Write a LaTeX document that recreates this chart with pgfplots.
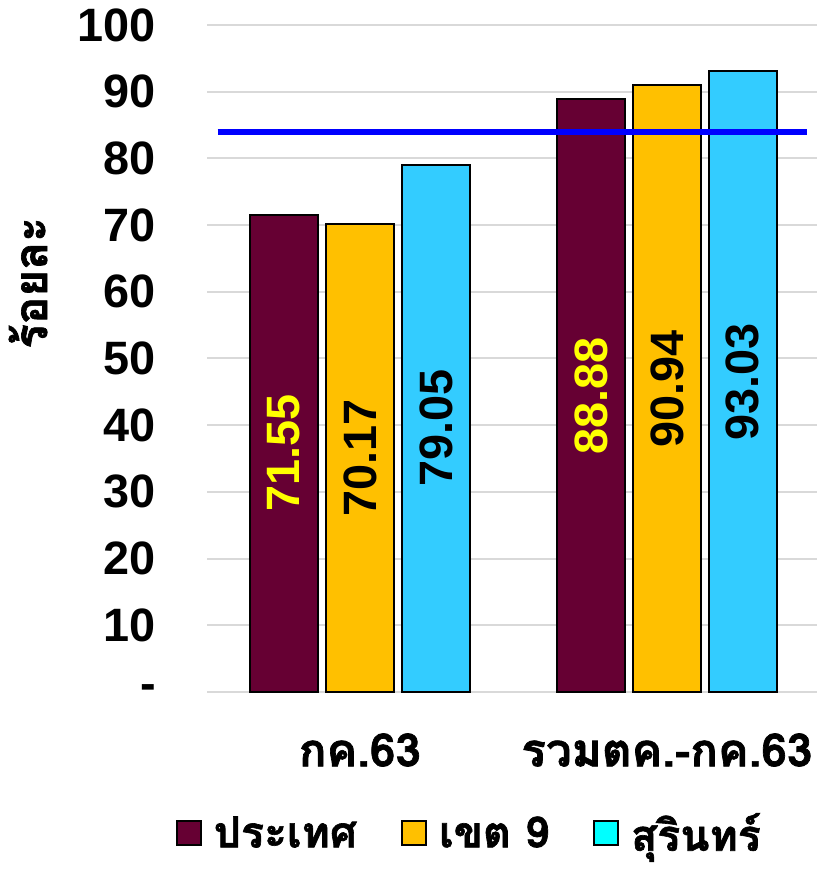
\documentclass[border=0pt]{standalone}
\usepackage{pgfplots}
\pgfplotsset{compat=1.18}
\usepackage{fontspec}
\setmainfont{Liberation Sans}
\newfontfamily\thai[Script=Thai, BoldFeatures={FakeBold=1.5}]{Loma}
\definecolor{cMaroon}{HTML}{660033}
\definecolor{cGold}{HTML}{FFC000}
\definecolor{cSky}{HTML}{33CCFF}
\definecolor{cCyan}{HTML}{00FFFF}
\definecolor{cGrid}{HTML}{D9D9D9}
\definecolor{cLine}{HTML}{0000FF}
\definecolor{cYel}{HTML}{FFFF00}
\pgfplotsset{
  barlabel/.style 2 args={
    nodes near coords={\pgfmathprintnumber[assume math mode=true,fixed,fixed zerofill,precision=2]{\pgfplotspointmeta}},
    visualization depends on=rawy \as \rawy,
    every node near coord/.append style={
      shift={(axis direction cs:0,-\rawy/2)}, xshift=#2, rotate=90, anchor=center,
      font=\fontsize{23.5}{28}\selectfont\bfseries, text=#1},
  },
  bars/.style={ybar, bar width=34bp, draw=black, line width=1bp},
}
\begin{document}
\begin{tikzpicture}
\useasboundingbox (0,0) rectangle (408.5bp,434.5bp);
\begin{axis}[
  at={(103.5bp,88.5bp)}, anchor=south west,
  scale only axis, width=305bp, height=333.5bp,
  xmin=-0.498, xmax=1.489, ymin=0, ymax=100,
  axis line style={draw=none},
  major tick length=0pt,
  ymajorgrids, grid style={cGrid, line width=1bp},
  ytick={0,10,...,100},
  yticklabels={-,10,20,30,40,50,60,70,80,90,100},
  yticklabel style={font=\fontsize{23.5}{28}\selectfont\bfseries, anchor=east, xshift=-22bp},
  xtick={0,1},
  xticklabels={{กค.63},{รวมตค.-กค.63}},
  xticklabel style={font=\thai\fontsize{23}{28}\selectfont\bfseries, anchor=center, yshift=-29bp},
  legend columns=-1,
  legend style={at={(0.43,-0.212)}, anchor=center, draw=none, fill=none, inner sep=0pt,
    font=\thai\fontsize{21.5}{26}\selectfont\bfseries,
    nodes={inner sep=1bp},
    /tikz/every odd column/.append style={column sep=5bp},
    /tikz/every even column/.append style={column sep=21bp}},
  clip=false,
]
\addplot[bars, fill=cMaroon, bar shift=-38bp, barlabel={cYel}{-38bp}, forget plot]
  coordinates {(0,71.55) (1,88.88)};
\addplot[bars, fill=cGold, bar shift=0bp, barlabel={black}{0bp}, forget plot]
  coordinates {(0,70.17) (1,90.94)};
\addplot[bars, fill=cSky, bar shift=38bp, barlabel={black}{38bp}, forget plot]
  coordinates {(0,79.05) (1,93.03)};
\addplot[cLine, line width=3bp, forget plot] coordinates {(-0.463,84) (1.456,84)};
\addlegendimage{legend image code/.code={\draw[fill=cMaroon,draw=black,line width=1bp] (0bp,-6bp) rectangle (12bp,6bp);}}
\addlegendentry{ประเทศ}
\addlegendimage{legend image code/.code={\draw[fill=cGold,draw=black,line width=1bp] (0bp,-6bp) rectangle (12bp,6bp);}}
\addlegendentry{เขต 9}
\addlegendimage{legend image code/.code={\draw[fill=cCyan,draw=black,line width=1bp] (0bp,-6bp) rectangle (12bp,6bp);}}
\addlegendentry{สุรินทร์}
\end{axis}
\node[rotate=90, font=\thai\fontsize{23}{28}\selectfont\bfseries] at (14bp,293bp) {ร้อยละ};
\end{tikzpicture}
\end{document}
